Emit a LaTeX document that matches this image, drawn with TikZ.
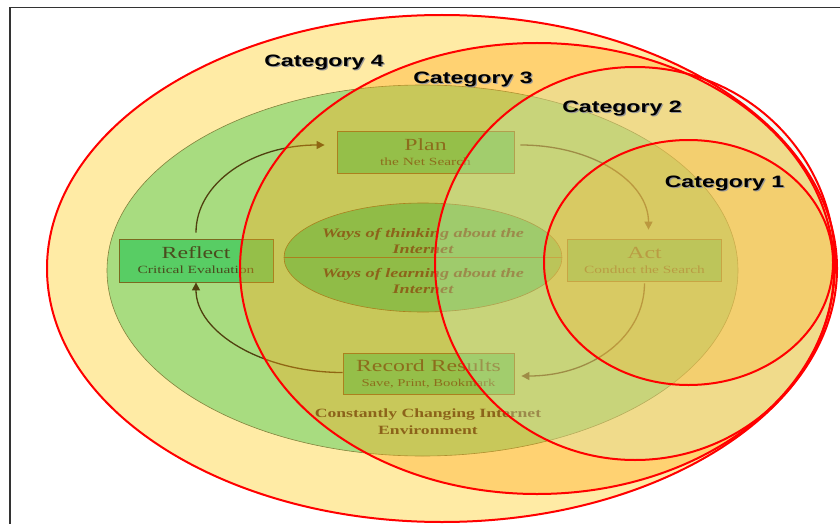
\documentclass[tikz,border=0pt]{standalone}
\usepackage{fontspec}
\usepackage{graphicx}
\setmainfont{Liberation Serif}
\newfontfamily\catfont{Liberation Sans}
\usetikzlibrary{arrows.meta}

\definecolor{catfour}{RGB}{255,235,165}
\definecolor{catthree}{RGB}{255,168,27}
\definecolor{cattwo}{RGB}{200,246,209}
\definecolor{catone}{RGB}{253,180,47}
\definecolor{envgreen}{RGB}{168,220,128}
\definecolor{innergreen}{RGB}{80,200,98}
\definecolor{boxgreen}{RGB}{88,205,100}
\definecolor{edgeolive}{RGB}{122,106,32}
\definecolor{envedge}{RGB}{130,130,60}
\definecolor{textolive}{RGB}{74,76,30}
\definecolor{textbrown}{RGB}{74,60,26}
\definecolor{arrowbrown}{RGB}{80,64,15}

% text is stretched sideways in the picture
\newcommand{\wide}[1]{\scalebox{1.4}[1]{#1}}
\newcommand{\cattext}[1]{\makebox[0pt][l]{\hspace{1.2pt}\raisebox{-1.2pt}{\color{black!40}\wide{#1}}}\wide{#1}}

\tikzset{
  stepbox/.style={draw=edgeolive, fill=boxgreen, line width=0.8pt, inner sep=0pt, align=center, text=textolive, font=\fontsize{11}{15}\selectfont},
  flow/.style={line width=1.3pt, draw=arrowbrown, -{Triangle[length=8pt,width=8pt]}},
  catline/.style={draw=red, line width=2pt},
  catlabel/.style={font=\catfont\bfseries\fontsize{16.5}{17}\selectfont, text=black, inner sep=0pt},
  waystext/.style={font=\bfseries\itshape\fontsize{13}{16}\selectfont, text=textbrown, align=center, inner sep=0pt},
  envtext/.style={font=\bfseries\fontsize{12.6}{17}\selectfont, text=textbrown, align=center, inner sep=0pt}
}

\begin{document}
\begin{tikzpicture}[x=1pt,y=-1pt]
\useasboundingbox (0,0) rectangle (840,524);
% frame
\draw[line width=1.5pt, black!80] (10,524) -- (10,7.5) -- (840,7.5);

% Category 4 background
\fill[catfour] (442,268.5) ellipse [x radius=395pt, y radius=253.5pt];

% environment
\draw[envedge, line width=0.6pt, fill=envgreen] (422.5,270.5) ellipse [x radius=315.5pt, y radius=185.5pt];
% inner ellipse
\draw[edgeolive, line width=0.6pt, fill=innergreen] (423,257.5) ellipse [x radius=139pt, y radius=54.5pt];
\draw[edgeolive, line width=0.6pt] (284,257.5) -- (562,257.5);

% boxes
\node[stepbox, minimum width=177pt, minimum height=42pt] (plan) at (425.5,152)
  {{\fontsize{17}{15}\selectfont\wide{Plan}}\\\wide{the Net Search}};
\node[stepbox, minimum width=154pt, minimum height=43pt] (reflect) at (196,260.5)
  {{\fontsize{17}{15}\selectfont\wide{Reflect}}\\\wide{Critical Evaluation}};
\node[stepbox, minimum width=154pt, minimum height=42pt] (act) at (644.5,260)
  {{\fontsize{17}{15}\selectfont\wide{Act}}\\\wide{Conduct the Search}};
\node[stepbox, minimum width=171pt, minimum height=41pt, font=\fontsize{10.5}{15}\selectfont] (record) at (428.5,373.5)
  {{\fontsize{17}{15}\selectfont\wide{Record Results}}\\\wide{Save, Print, Bookmark}};

% cycle
\draw[flow] ([yshift=6pt]reflect.north) .. controls +(0,-50) and +(-72,0) .. ([xshift=-12pt,yshift=7pt]plan.west);
\draw[flow] ([xshift=6pt,yshift=7pt]plan.east) .. controls +(72,0) and +(0,-48) .. ([xshift=4pt,yshift=9pt]act.north);
\draw[flow] ([yshift=-2pt]act.south) .. controls +(0,52) and +(72,0) .. ([xshift=7pt,yshift=-2.5pt]record.east);
\draw[flow] ([yshift=1pt]record.west) .. controls +(-80,0) and +(0,50) .. (reflect.south);

% texts
\node[waystext] (thinking) at (423,241) {\wide{Ways of thinking about the}\\\wide{Internet}};
\node[waystext] (learning) at (423,281) {\wide{Ways of learning about the}\\\wide{Internet}};
\node[envtext] (changing) at (428,421.5) {\wide{Constantly Changing Internet}\\\wide{Environment}};

% category overlays
\fill[catthree, opacity=0.37] (537,268.5) ellipse [x radius=297pt, y radius=225.5pt];
\fill[cattwo, opacity=0.27] (635,263.5) ellipse [x radius=200pt, y radius=196.5pt];
\fill[catone, opacity=0.3] (688.5,262.5) ellipse [x radius=144.5pt, y radius=122.5pt];

% red outlines
\draw[catline] (442,268.5) ellipse [x radius=395pt, y radius=253.5pt];
\draw[catline] (537,268.5) ellipse [x radius=297pt, y radius=225.5pt];
\draw[catline] (635,263.5) ellipse [x radius=200pt, y radius=196.5pt];
\draw[catline] (688.5,262.5) ellipse [x radius=144.5pt, y radius=122.5pt];

% labels
\node[catlabel] (cat4) at (324,63) {\cattext{Category 4}};
\node[catlabel] (cat3) at (473,80) {\cattext{Category 3}};
\node[catlabel] (cat2) at (622,109) {\cattext{Category 2}};
\node[catlabel] (cat1) at (724.5,184) {\cattext{Category 1}};
\end{tikzpicture}
\end{document}
